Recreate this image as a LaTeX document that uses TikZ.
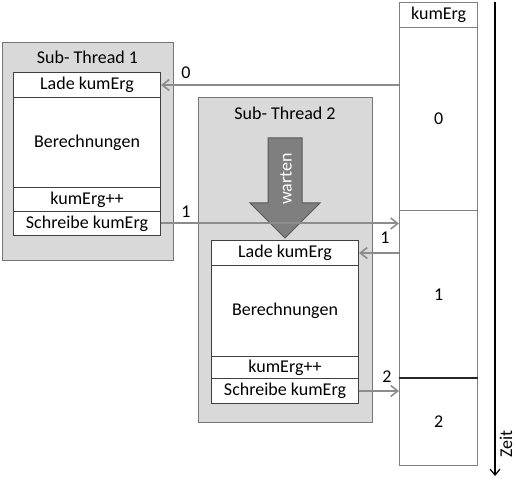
\documentclass[tikz,border=0pt]{standalone}
\usepackage{fontspec}
\setmainfont{Carlito}
\usetikzlibrary{arrows.meta}
\definecolor{thrfill}{HTML}{D9D9D9}
\definecolor{thrdraw}{HTML}{767676}
\definecolor{boxdraw}{HTML}{404040}
\definecolor{arrgray}{HTML}{8C8C8C}
\definecolor{coldraw}{HTML}{808080}
\definecolor{wfill}{HTML}{7F7F7F}
\definecolor{wdraw}{HTML}{595959}
\tikzset{
  thread/.style={draw=thrdraw, fill=thrfill, line width=1.3pt, anchor=north west, inner sep=0pt},
  cell/.style={draw=boxdraw, fill=white, line width=1pt, anchor=north west, inner sep=0pt, minimum width=147pt},
  colcell/.style={draw=coldraw, fill=white, line width=1.3pt, anchor=north west, inner sep=0pt, minimum width=78pt},
  lbl/.style={inner sep=0pt},
  garr/.style={draw=arrgray, line width=2pt, -{Straight Barb[length=7pt,width=11pt,line width=1.6pt]}},
}
\begin{document}
\begin{tikzpicture}[x=1pt,y=-1pt,font=\fontsize{18}{21.6}\selectfont]
\useasboundingbox (0,0) rectangle (516,486);
% Thread 1
\node[thread, minimum width=171pt, minimum height=218pt] (t1) at (2,42) {};
\node[lbl] (t1title) at (87.5,57) {Sub- Thread 1};
\node[cell, minimum height=25pt] (lade1) at (13,72) {Lade kumErg};
\node[cell, minimum height=90pt] (ber1) at (13,97) {Berechnungen};
\node[cell, minimum height=24pt] (kum1) at (13,187) {kumErg++};
\node[cell, minimum height=24pt] (schr1) at (13,211) {Schreibe kumErg};
% Thread 2
\node[thread, minimum width=174pt, minimum height=325pt] (t2) at (198,97) {};
\node[lbl] (t2title) at (285,113) {Sub- Thread 2};
\node[cell, minimum height=25pt] (lade2) at (211,240) {Lade kumErg};
\node[cell, minimum height=91pt] (ber2) at (211,265) {Berechnungen};
\node[cell, minimum height=22pt] (kum2) at (211,356) {kumErg++};
\node[cell, minimum height=25pt] (schr2) at (211,378) {Schreibe kumErg};
% warten arrow
\draw[fill=wfill, draw=wdraw, line width=1pt] (268,138) -- (302,138) -- (302,203) -- (320,203) -- (285,238) -- (250,203) -- (268,203) -- cycle;
\node[lbl, rotate=90, text=white] (warten) at (286,179) {warten};
% column
\node[colcell, minimum height=25pt] (head) at (399,2) {kumErg};
\node[colcell, minimum height=183pt] (c0) at (399,27) {0};
\node[colcell, minimum height=168pt] (c1) at (399,210) {1};
\node[colcell, minimum height=87pt] (c2) at (399,378) {2};
\draw[draw=black!85, line width=1.3pt] (c2.north west) -- (c2.north east);
% time axis
\coordinate (ts) at (495,2);
\coordinate (te) at (495,476);
\draw[line width=1.2pt, -{Straight Barb[length=6pt,width=10pt,line width=1.2pt]}] (ts) -- (te);
\node[lbl, rotate=90] (zeit) at (506,444) {Zeit};
% data arrows
\draw[garr] (c0.west |- lade1.east) -- (lade1.east);
\node[lbl] (n0) at (186,73) {0};
\draw[garr] (schr1.east) -- (c1.west |- schr1.east);
\node[lbl] (n1a) at (186,212) {1};
\draw[garr] (c1.west |- lade2.east) -- (lade2.east);
\node[lbl] (n1b) at (385,238) {1};
\draw[garr] (schr2.east) -- (c2.west |- schr2.east);
\node[lbl] (n2) at (387,377) {2};
\end{tikzpicture}
\end{document}
